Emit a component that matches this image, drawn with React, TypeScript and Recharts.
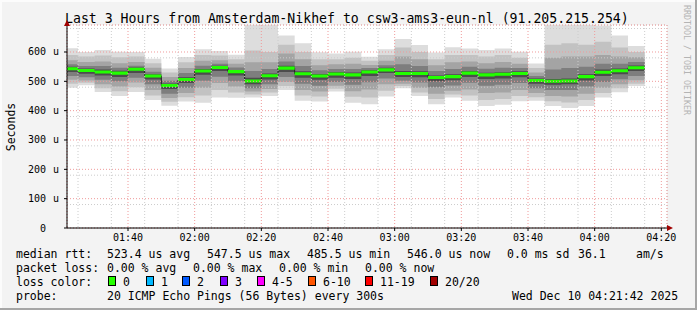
import { Area, CartesianGrid, ComposedChart, Line, XAxis, YAxis } from 'recharts';

const MONO = '"DejaVu Sans Mono", monospace';

// 5 minute bins, start time of each bin
const barStarts = [
  '01:20', '01:25', '01:30', '01:35', '01:40', '01:45', '01:50', '01:55',
  '02:00', '02:05', '02:10', '02:15', '02:20', '02:25', '02:30', '02:35',
  '02:40', '02:45', '02:50', '02:55', '03:00', '03:05', '03:10', '03:15',
  '03:20', '03:25', '03:30', '03:35', '03:40', '03:45', '03:50', '03:55',
  '04:00', '04:05', '04:10',
];
const lastBarEnd = '04:15';
const windowStart = '01:21:42';
const windowEnd = '04:21:42';
const xTicks = ['01:40', '02:00', '02:20', '02:40', '03:00', '03:20', '03:40', '04:00', '04:20'];
const yTicks = [0, 100, 200, 300, 400, 500, 600];
const yMax = 692;

// median rtt in microseconds
const median = [543, 537, 532, 528, 541, 518, 486, 506, 535, 547, 533, 501, 519, 545, 526, 518, 525, 522, 532, 539, 527, 527, 513, 516, 528, 522, 524, 527, 503, 500, 501, 516, 531, 536, 546];

// smoke: outer ping pairs -> inner ping pairs
const hi1 = [613, 600, 607, 601, 600, 577, 544, 583, 609, 603, 591, 720, 720, 656, 630, 599, 595, 601, 584, 609, 644, 624, 598, 616, 612, 607, 612, 601, 561, 720, 720, 720, 690, 656, 620];
const hi2 = [590, 585, 588, 582, 585, 562, 530, 565, 590, 588, 575, 605, 600, 625, 600, 575, 575, 580, 570, 590, 615, 600, 575, 590, 590, 585, 590, 580, 545, 625, 630, 625, 635, 615, 600];
const hi3 = [572, 566, 568, 562, 566, 546, 515, 545, 570, 572, 560, 565, 565, 595, 575, 555, 558, 560, 556, 570, 585, 575, 555, 565, 568, 562, 566, 560, 530, 580, 585, 585, 590, 585, 582];
const hi4 = [558, 552, 552, 546, 553, 533, 502, 528, 553, 560, 547, 535, 542, 568, 552, 538, 542, 542, 545, 555, 558, 552, 535, 542, 550, 543, 546, 545, 518, 540, 545, 550, 560, 560, 566];
const hi5 = [550, 544, 540, 536, 547, 524, 493, 514, 542, 553, 539, 512, 527, 553, 534, 525, 532, 530, 538, 546, 535, 534, 520, 524, 535, 529, 531, 534, 510, 508, 510, 524, 540, 544, 554];
const lo5 = [532, 526, 520, 515, 528, 506, 474, 494, 522, 535, 520, 490, 506, 532, 512, 505, 512, 508, 518, 528, 515, 514, 500, 504, 515, 508, 510, 514, 492, 488, 490, 503, 518, 524, 535];
const lo4 = [518, 514, 505, 500, 512, 490, 458, 478, 502, 516, 500, 476, 490, 515, 492, 485, 498, 488, 497, 510, 502, 496, 480, 486, 495, 485, 488, 494, 476, 470, 470, 482, 498, 507, 518];
const lo3 = [505, 503, 490, 482, 496, 470, 443, 460, 478, 494, 482, 465, 474, 498, 470, 465, 485, 466, 472, 490, 492, 478, 458, 468, 472, 460, 462, 470, 460, 450, 448, 458, 478, 490, 504];
const lo2 = [492, 495, 476, 466, 480, 452, 430, 446, 452, 470, 462, 455, 462, 484, 452, 448, 475, 447, 445, 468, 484, 462, 440, 455, 452, 436, 440, 450, 446, 432, 428, 436, 460, 476, 492];
const lo1 = [478, 487, 464, 450, 464, 436, 417, 431, 427, 445, 444, 445, 450, 470, 434, 431, 465, 427, 422, 448, 476, 450, 422, 445, 434, 416, 420, 432, 434, 416, 409, 416, 445, 463, 484];

const smokeColors = ['#dddddd', '#c2c2c2', '#a4a4a4', '#7e7e7e', '#4c4c4c'];
const bands = [[lo1, hi1], [lo2, hi2], [lo3, hi3], [lo4, hi4], [lo5, hi5]];

const lossColors = [
  { label: '0', color: '#26ff00' },
  { label: '1', color: '#00b8ff' },
  { label: '2', color: '#0059ff' },
  { label: '3', color: '#7e00ff' },
  { label: '4-5', color: '#ff00ff' },
  { label: '6-10', color: '#ff5500' },
  { label: '11-19', color: '#ff0000' },
  { label: '20/20', color: '#a10000' },
];

const toMin = (s: string) => {
  const p = s.split(':').map(Number);
  return p[0] * 60 + p[1] + (p[2] || 0) / 60;
};
const pad = (n: number) => String(n).padStart(2, '0');
const fmtTime = (v: number) => `${pad(Math.floor(v / 60))}:${pad(Math.round(v % 60))}`;

const rows: Record<string, any>[] = barStarts.map((s, i) => {
  const r: Record<string, any> = { t: toMin(s), median: median[i], green: [median[i] - 5.2, median[i] + 5.2] };
  bands.forEach(([lo, hi], k) => {
    r[`b${k}`] = [lo[i], hi[i]];
  });
  return r;
});
rows.push({ ...rows[rows.length - 1], t: toMin(lastBarEnd) });

const xDomain = [toMin(windowStart), toMin(windowEnd)];
const minorX = Array.from({ length: 36 }, (_, i) => 85 + i * 5).filter((v) => v % 20 !== 0 && v < xDomain[1]);
const minorY = Array.from({ length: 34 }, (_, i) => (i + 1) * 20).filter((v) => v % 100 !== 0);

function YTick({ x, y, payload }: any) {
  const v = payload.value;
  const st = { fontFamily: MONO, fontSize: 10, fill: '#000' };
  return (
    <g>
      <text x={x - 16} y={y} dy="0.35em" textAnchor="end" style={st}>{v}</text>
      {v !== 0 && <text x={x - 9} y={y} dy="0.35em" textAnchor="start" style={st}>u</text>}
    </g>
  );
}

const legendRows = [
  { y: 247, parts: [[16, 'median rtt:'], [107, '523.4 us avg'], [207, '547.5 us max'], [307, '485.5 us min'], [407, '546.0 us now'], [507, '0.0 ms sd'], [578, '36.1'], [636, 'am/s']] },
  { y: 261, parts: [[16, 'packet loss:'], [107, '0.00 % avg'], [193, '0.00 % max'], [279, '0.00 % min'], [365, '0.00 % now']] },
  { y: 275, parts: [[16, 'loss color:']] },
  { y: 289, parts: [[16, 'probe:'], [107, '20 ICMP Echo Pings (56 Bytes) every 300s'], [512, 'Wed Dec 10 04:21:42 2025']] },
];
const swatchX = [108, 146, 182, 220, 257, 308, 365, 430];

const txt = (left: number, top: number, s: string, extra: any = {}) => (
  <div key={`${left}-${top}-${s}`} style={{ position: 'absolute', left, top, fontFamily: MONO, fontSize: 11.5, lineHeight: '14px', color: '#000', whiteSpace: 'pre', ...extra }}>{s}</div>
);

export default function App() {
  return (
    <div style={{ position: 'absolute', left: 0, top: 0, width: 697, height: 310, background: '#f3f3f3', overflow: 'hidden', boxShadow: 'inset -2px -2px 0 #a6a6a6, inset 2px 2px 0 #fcfcfc' }}>
      <ComposedChart width={697} height={310} data={rows} margin={{ top: 25, right: 30, bottom: 62, left: 0 }}>
        <CartesianGrid horizontal={false} vertical={false} fill="#ffffff" />
        <XAxis dataKey="t" type="number" domain={xDomain} allowDataOverflow ticks={xTicks.map(toMin)} tickFormatter={fmtTime}
          height={20} tickSize={3} tickMargin={3} stroke="#000" tick={{ fontSize: 10, fill: '#000', fontFamily: MONO }} />
        <XAxis xAxisId="minor" dataKey="t" type="number" domain={xDomain} allowDataOverflow ticks={minorX} hide />
        <YAxis type="number" domain={[0, yMax]} allowDataOverflow ticks={yTicks} width={67} tickSize={3} tick={<YTick />} stroke="#000" />
        <YAxis yAxisId="minor" type="number" domain={[0, yMax]} allowDataOverflow ticks={minorY} hide />
        {bands.map((_, k) => (
          <Area key={k} dataKey={`b${k}`} type="stepAfter" stroke="none" fill={smokeColors[k]} fillOpacity={1}
            isAnimationActive={false} dot={false} activeDot={false} zIndex={100 + k} />
        ))}
        <Line dataKey="median" type="stepAfter" stroke="#202020" strokeWidth={1} dot={false} activeDot={false} isAnimationActive={false} zIndex={200} />
        <Area dataKey="green" type="stepAfter" stroke="none" fill="#22ff00" fillOpacity={1} isAnimationActive={false} dot={false} activeDot={false} zIndex={300} />
        <CartesianGrid xAxisId="minor" yAxisId="minor" stroke="#cccccc" strokeDasharray="1 2" zIndex={400} />
        <CartesianGrid stroke="#f09a9a" strokeDasharray="1 2" zIndex={410} />
      </ComposedChart>

      {txt(65, 11, 'Last 3 Hours from Amsterdam-Nikhef to csw3-ams3-eun-nl (91.205.215.254)', { fontSize: 13.2, lineHeight: '16px' })}
      <div style={{ position: 'absolute', left: 4, top: 127, transform: 'translate(0, -50%) rotate(180deg)', writingMode: 'vertical-rl', fontFamily: MONO, fontSize: 11.5, color: '#000' }}>Seconds</div>
      <div style={{ position: 'absolute', left: 682, top: 5, writingMode: 'vertical-rl', fontFamily: MONO, fontSize: 8.3, color: '#b4b4b4', whiteSpace: 'pre' }}>RRDTOOL / TOBI OETIKER</div>

      {/* axis arrows */}
      <div style={{ position: 'absolute', left: 64, top: 20, width: 0, height: 0, borderLeft: '3px solid transparent', borderRight: '3px solid transparent', borderBottom: '6px solid #a00000' }} />
      <div style={{ position: 'absolute', left: 667, top: 225, width: 0, height: 0, borderTop: '3px solid transparent', borderBottom: '3px solid transparent', borderLeft: '6px solid #a00000' }} />

      {legendRows.map((r) => r.parts.map(([x, s]) => txt(x as number, r.y, s as string)))}
      {lossColors.map((c, i) => (
        <div key={c.label}>
          <div style={{ position: 'absolute', left: swatchX[i], top: 276, width: 8, height: 10, background: c.color, border: '1px solid #000', boxSizing: 'border-box' }} />
          {txt(swatchX[i] + 15, 275, c.label)}
        </div>
      ))}
    </div>
  );
}
